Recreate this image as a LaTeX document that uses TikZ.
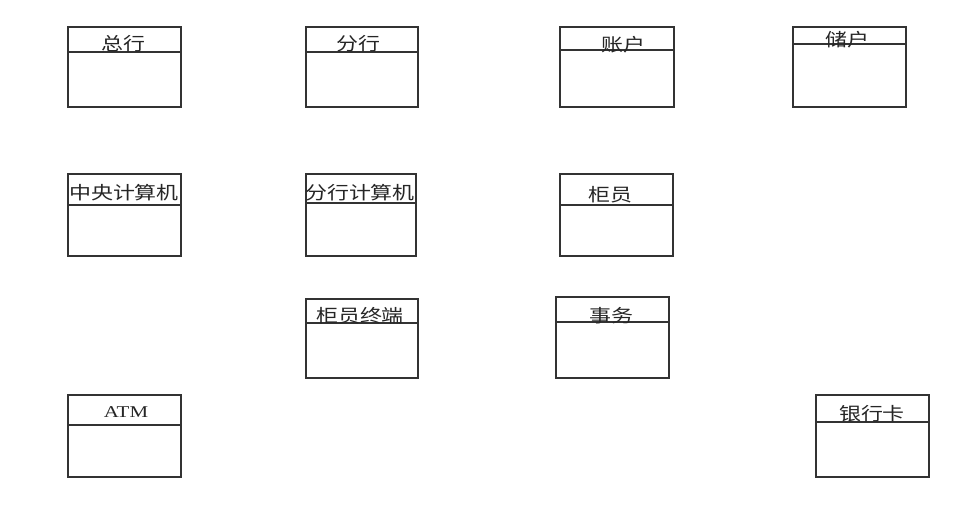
\documentclass[tikz,border=0pt]{standalone}
\usepackage{fontspec}
\newfontfamily\cjk[FakeStretch=1.22]{Noto Sans CJK SC}
\newfontfamily\latn[FakeStretch=1.27]{Liberation Serif}
\tikzset{
  classbox/.style={draw=black!80, line width=1.1pt, inner sep=0pt, rectangle},
  divider/.style={draw=black!80, line width=1.1pt},
  lbl/.style={inner sep=0pt, font=\cjk\fontsize{18}{18}\selectfont, text=black!85},
  lbllat/.style={inner sep=0pt, font=\latn\fontsize{16.5}{16.5}\selectfont, text=black!85}
}
% name, x1, y1, x2, y2, divider y
\newcommand{\umlcls}[6]{%
  \node[classbox, minimum width={(#4-#2)*1pt}, minimum height={(#5-#3)*1pt}]
    (#1) at ({(#2+#4)/2},{(#3+#5)/2}) {};
  \draw[divider] (#1.west |- 0,#6) -- (#1.east |- 0,#6);
}
\begin{document}
\begin{tikzpicture}[x=1pt,y=-1pt]
\useasboundingbox[fill=white] (0,0) rectangle (960,507);
\umlcls{zonghang}{68}{27}{181}{107}{52}
\node[lbl] (tzonghang) at (123,44) {总行};
\umlcls{fenhang}{306}{27}{418}{107}{52}
\node[lbl] (tfenhang) at (358,44) {分行};
\umlcls{zhanghu}{560}{27}{674}{107}{50}
\node[lbl] (tzhanghu) at (623,45) {账户};
\umlcls{chuhu}{793}{27}{906}{107}{44}
\node[lbl] (tchuhu) at (847,40) {储户};
\umlcls{zhongyang}{68}{174}{181}{256}{205}
\node[lbl] (tzhongyang) at (124,193) {中央计算机};
\umlcls{fenhangjsj}{306}{174}{416}{256}{203}
\node[lbl] (tfenhangjsj) at (360,193) {分行计算机};
\umlcls{guiyuan}{560}{174}{673}{256}{205}
\node[lbl] (tguiyuan) at (610,195) {柜员};
\umlcls{zhongduan}{306}{299}{418}{378}{323}
\node[lbl] (tzhongduan) at (360,316) {柜员终端};
\umlcls{shiwu}{556}{297}{669}{378}{322}
\node[lbl] (tshiwu) at (611,316) {事务};
\umlcls{atm}{68}{395}{181}{477}{425}
\node[lbllat] (tatm) at (126,412) {ATM};
\umlcls{yinhangka}{816}{395}{929}{477}{422}
\node[lbl] (tyinhangka) at (872,414) {银行卡};
\end{tikzpicture}
\end{document}
